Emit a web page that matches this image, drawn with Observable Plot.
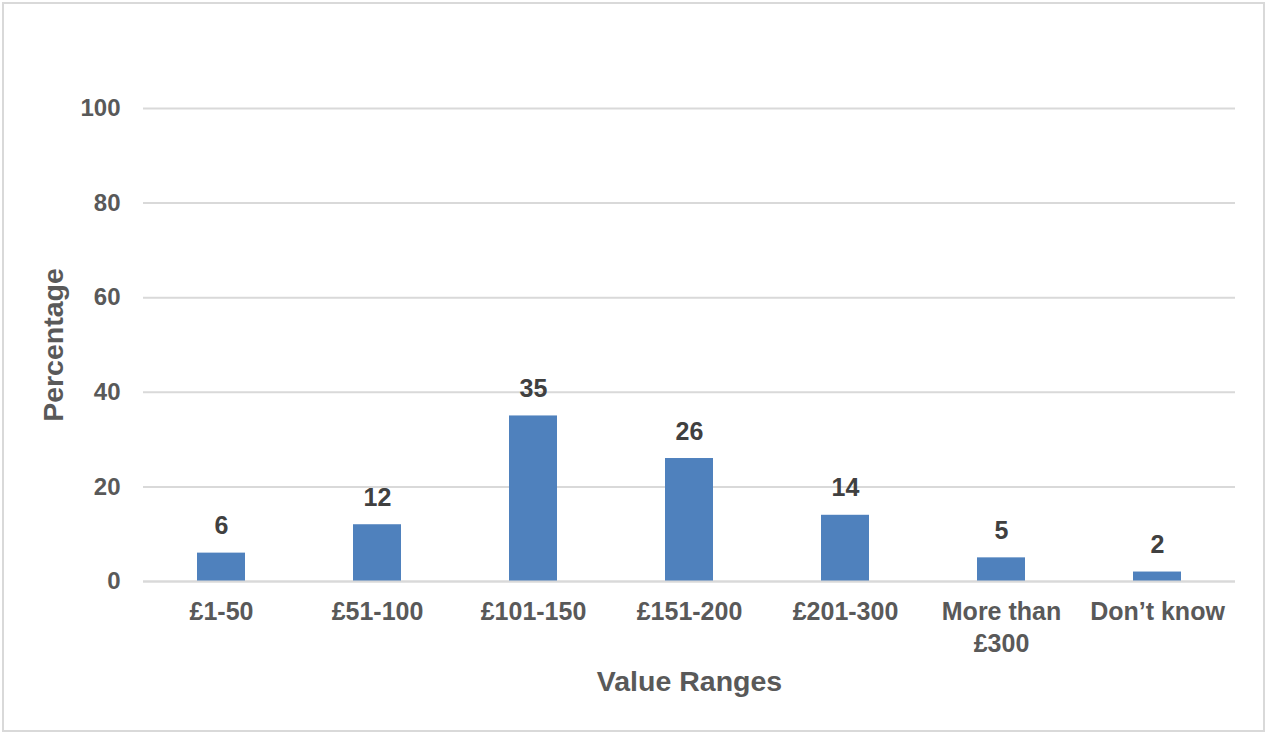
<!DOCTYPE html>
<html>
<head>
<meta charset="utf-8">
<script src="https://cdn.jsdelivr.net/npm/d3@7"></script>
<script src="https://cdn.jsdelivr.net/npm/@observablehq/plot@0.6"></script>
<style>
  html, body { margin: 0; padding: 0; background: #fff; }
  #wrap { position: relative; width: 1266px; height: 733px; }
  #border { position: absolute; left: 2px; top: 2px; width: 1259px; height: 726px; border: 2px solid #d9d9d9; pointer-events: none; }
  #chart { position: absolute; left: 0; top: 0; }
  g[aria-label="x-axis label"], g[aria-label="y-axis label"] { font-size: 28.5px; }
</style>
</head>
<body>
<div id="wrap"><div id="chart"></div><div id="border"></div></div>
<script>
const categories = ["£1-50", "£51-100", "£101-150", "£151-200", "£201-300", "More than £300", "Don’t know"];
const values = [6, 12, 35, 26, 14, 5, 2];
const yTicks = [0, 20, 40, 60, 80, 100];
const tickLabels = {"More than £300": "More than\n£300"};

const data = categories.map((c, i) => ({category: c, value: values[i]}));

const chart = Plot.plot({
  width: 1266,
  height: 733,
  marginLeft: 143,
  marginRight: 31,
  marginTop: 108,
  marginBottom: 152,
  style: {fontFamily: "'Liberation Sans', Arial, sans-serif", fontWeight: "bold", fontSize: "25px", color: "#595959", background: "transparent"},
  x: {domain: categories, paddingInner: 0.692, paddingOuter: 0.346},
  y: {domain: [0, 100]},
  marks: [
    Plot.gridY(yTicks, {stroke: "#d9d9d9", strokeOpacity: 1, strokeWidth: 2}),
    Plot.barY(data, {x: "category", y: "value", fill: "#4f81bd"}),
    Plot.ruleY([0], {stroke: "#d9d9d9", strokeWidth: 2}),
    Plot.text(data, {x: "category", y: "value", text: d => String(d.value), lineAnchor: "bottom", dy: -19, fill: "#404040", fontSize: 25}),
    Plot.axisY({ticks: yTicks, tickSize: 0, tickPadding: 23, fontSize: 24, label: "Percentage", labelAnchor: "center", labelArrow: "none", labelOffset: 101, fill: "#595959"}),
    Plot.axisX({tickSize: 0, tickPadding: 15, lineHeight: 1.3, tickFormat: d => tickLabels[d] ?? d, label: "Value Ranges", labelAnchor: "center", labelArrow: "none", labelOffset: 109, fill: "#595959"})
  ]
});
document.getElementById("chart").appendChild(chart);
</script>
</body>
</html>
